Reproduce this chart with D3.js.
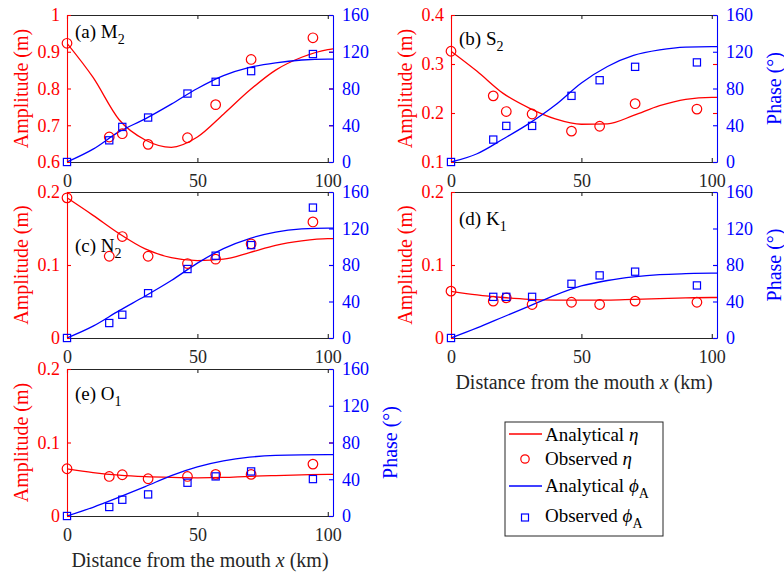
<!DOCTYPE html>
<html>
<head>
<meta charset="utf-8">
<script src="https://cdn.jsdelivr.net/npm/d3@7"></script>
<style>
  body { margin: 0; background: #fff; }
  svg text { font-family: "Liberation Serif", "DejaVu Serif", serif; }
</style>
</head>
<body>
<svg id="chart" width="784" height="572"></svg>
<script>
// stations (km from the mouth) and the x grid of the analytical curves
var stationKm = [0, 16.2, 21.2, 31.1, 46.2, 57, 70.6, 94.3];
var modelKm = [0, 10, 20, 30, 40, 50, 60, 70, 80, 90, 100, 102];
var xTicks = [0, 50, 100];
var phaseTicks = [0, 40, 80, 120, 160];

// M2
var m2AmpObs = [0.923, 0.668, 0.677, 0.648, 0.666, 0.756, 0.879, 0.938];
var m2PhaseObs = [0, 23.6, 38.2, 48.4, 74.5, 87.3, 98.9, 117.5];
var m2AmpModel = [0.923, 0.83, 0.715, 0.66, 0.64, 0.668, 0.73, 0.795, 0.85, 0.885, 0.906, 0.908];
var m2PhaseModel = [0, 14, 33, 47, 63, 80, 94, 103, 108, 111, 112, 112];

// S2
var s2AmpObs = [0.326, 0.235, 0.203, 0.198, 0.163, 0.173, 0.219, 0.208];
var s2PhaseObs = [0, 24.4, 39.3, 39.3, 72, 89, 103.6, 108.4];
var s2AmpModel = [0.326, 0.285, 0.24, 0.21, 0.188, 0.177, 0.178, 0.195, 0.215, 0.228, 0.232, 0.232];
var s2PhaseModel = [0, 9, 25, 42, 62, 86, 104, 116, 122, 125, 125.5, 125.5];

// N2
var n2AmpObs = [0.192, 0.112, 0.139, 0.112, 0.102, 0.108, 0.129, 0.159];
var n2PhaseObs = [0, 16.4, 25.5, 49.1, 75.6, 90.2, 101.8, 142.9];
var n2AmpModel = [0.192, 0.168, 0.143, 0.122, 0.11, 0.106, 0.108, 0.117, 0.127, 0.133, 0.136, 0.136];
var n2PhaseModel = [0, 13, 30, 46, 63, 82, 98, 109, 116, 119.5, 120.5, 120.5];

// K1
var k1AmpObs = [0.0642, 0.0505, 0.055, 0.0459, 0.049, 0.0459, 0.0505, 0.049];
var k1PhaseObs = [0, 45.1, 45.1, 45.1, 59.4, 68.6, 72.7, 57.6];
var k1AmpModel = [0.064, 0.059, 0.0555, 0.053, 0.052, 0.0518, 0.052, 0.053, 0.054, 0.055, 0.0555, 0.0555];
var k1PhaseModel = [0, 11, 23, 35, 47, 57, 63, 67, 69.5, 70.5, 71, 71];

// O1
var o1AmpObs = [0.0643, 0.0538, 0.0561, 0.0507, 0.0538, 0.0566, 0.0566, 0.0706];
var o1PhaseObs = [0, 9.8, 17.7, 23.5, 36.2, 43.1, 48.5, 40.2];
var o1AmpModel = [0.064, 0.059, 0.0555, 0.0535, 0.0525, 0.052, 0.0525, 0.054, 0.055, 0.056, 0.0565, 0.0565];
var o1PhaseModel = [0, 9.5, 20.5, 32, 44, 53.5, 60, 64, 66, 66.6, 66.7, 66.7];

var RED = "#ff0000", BLUE = "#0000ff", INK = "#262626";
var FONT = "Liberation Serif, DejaVu Serif, serif";

var svg = d3.select("#chart");

// #####################################################
// panel layout
//
var oneDec = d3.format(".1f");
function fmtZero(d) { return d == 0 ? "0" : oneDec(d); }

var panels = [
  {id: "a", label: "(a) M", sub: "2", left: 67, right: 333, top: 15, bottom: 162,
   ampDomain: [0.6, 1], ampTicks: [0.6, 0.7, 0.8, 0.9, 1], fmt: function (d) { return d == 1 ? "1" : oneDec(d); },
   titleY: 38, phaseLabel: false, xLabel: false,
   ampObs: m2AmpObs, phaseObs: m2PhaseObs, ampModel: m2AmpModel, phaseModel: m2PhaseModel},
  {id: "b", label: "(b) S", sub: "2", left: 451, right: 717, top: 15, bottom: 162,
   ampDomain: [0.1, 0.4], ampTicks: [0.1, 0.2, 0.3, 0.4], fmt: oneDec,
   titleY: 45, phaseLabel: true, xLabel: false,
   ampObs: s2AmpObs, phaseObs: s2PhaseObs, ampModel: s2AmpModel, phaseModel: s2PhaseModel},
  {id: "c", label: "(c) N", sub: "2", left: 67, right: 333, top: 192, bottom: 338,
   ampDomain: [0, 0.2], ampTicks: [0, 0.1, 0.2], fmt: fmtZero,
   titleY: 252, phaseLabel: false, xLabel: false,
   ampObs: n2AmpObs, phaseObs: n2PhaseObs, ampModel: n2AmpModel, phaseModel: n2PhaseModel},
  {id: "d", label: "(d) K", sub: "1", left: 451, right: 717, top: 192, bottom: 338,
   ampDomain: [0, 0.2], ampTicks: [0, 0.1, 0.2], fmt: fmtZero,
   titleY: 225, phaseLabel: true, xLabel: true,
   ampObs: k1AmpObs, phaseObs: k1PhaseObs, ampModel: k1AmpModel, phaseModel: k1PhaseModel},
  {id: "e", label: "(e) O", sub: "1", left: 67, right: 333, top: 369, bottom: 516,
   ampDomain: [0, 0.2], ampTicks: [0, 0.1, 0.2], fmt: fmtZero,
   titleY: 400, phaseLabel: true, xLabel: true,
   ampObs: o1AmpObs, phaseObs: o1PhaseObs, ampModel: o1AmpModel, phaseModel: o1PhaseModel}
];

function styleAxis(g, color) {
  g.attr("color", color)
   .attr("font-size", 18)
   .attr("font-family", FONT);
  g.selectAll("text").style("font-family", FONT);
  g.selectAll("path, line").attr("stroke-width", 1.1);
}

function drawPanel(p) {
  var g = svg.append("g").attr("class", "panel-" + p.id);
  var x = d3.scaleLinear().domain([0, 102]).range([p.left, p.right]);
  var yA = d3.scaleLinear().domain(p.ampDomain).range([p.bottom, p.top]);
  var yP = d3.scaleLinear().domain([0, 160]).range([p.bottom, p.top]);

  // clip for the curves
  g.append("clipPath").attr("id", "clip-" + p.id)
    .append("rect")
      .attr("x", p.left).attr("y", p.top)
      .attr("width", p.right - p.left).attr("height", p.bottom - p.top);

  // bottom and top axes
  g.append("g")
      .attr("transform", "translate(0," + p.bottom + ")")
      .call(d3.axisBottom(x).tickValues(xTicks).tickSize(-4).tickSizeOuter(0).tickPadding(12))
      .call(styleAxis, INK);
  g.append("g")
      .attr("transform", "translate(0," + p.top + ")")
      .call(d3.axisTop(x).tickValues(xTicks).tickSize(-4).tickSizeOuter(0).tickFormat(""))
      .call(styleAxis, INK);

  // left axis (amplitude) and its mirrored ticks on the right
  g.append("g")
      .attr("transform", "translate(" + p.left + ",0)")
      .call(d3.axisLeft(yA).tickValues(p.ampTicks).tickSize(-4).tickSizeOuter(0).tickPadding(7).tickFormat(p.fmt))
      .call(styleAxis, RED);
  var mirror = g.append("g")
      .attr("transform", "translate(" + p.right + ",0)")
      .call(d3.axisLeft(yA).tickValues(p.ampTicks).tickSize(4).tickSizeOuter(0).tickFormat(""))
      .call(styleAxis, RED);
  mirror.select(".domain").remove();

  // right axis (phase)
  g.append("g")
      .attr("transform", "translate(" + p.right + ",0)")
      .call(d3.axisRight(yP).tickValues(phaseTicks).tickSize(-4).tickSizeOuter(0).tickPadding(9))
      .call(styleAxis, BLUE);

  // analytical curves
  var ampLine = d3.line()
      .x(function (d, i) { return x(modelKm[i]); })
      .y(function (d) { return yA(d); })
      .curve(d3.curveMonotoneX);
  var phaseLine = d3.line()
      .x(function (d, i) { return x(modelKm[i]); })
      .y(function (d) { return yP(d); })
      .curve(d3.curveMonotoneX);

  g.append("path")
      .datum(p.ampModel)
      .attr("clip-path", "url(#clip-" + p.id + ")")
      .attr("fill", "none").attr("stroke", RED).attr("stroke-width", 1.3)
      .attr("d", ampLine);
  g.append("path")
      .datum(p.phaseModel)
      .attr("clip-path", "url(#clip-" + p.id + ")")
      .attr("fill", "none").attr("stroke", BLUE).attr("stroke-width", 1.3)
      .attr("d", phaseLine);

  // observations
  g.selectAll(".obs-amp")
      .data(p.ampObs)
    .enter().append("circle")
      .attr("class", "obs-amp")
      .attr("cx", function (d, i) { return x(stationKm[i]); })
      .attr("cy", function (d) { return yA(d); })
      .attr("r", 4.8)
      .attr("fill", "none").attr("stroke", RED).attr("stroke-width", 1.2);
  g.selectAll(".obs-phase")
      .data(p.phaseObs)
    .enter().append("rect")
      .attr("class", "obs-phase")
      .attr("x", function (d, i) { return x(stationKm[i]) - 3.6; })
      .attr("y", function (d) { return yP(d) - 3.6; })
      .attr("width", 7.2).attr("height", 7.2)
      .attr("fill", "none").attr("stroke", BLUE).attr("stroke-width", 1.2);

  // panel title
  var t = g.append("text")
      .attr("x", p.left + 8).attr("y", p.titleY)
      .attr("font-size", 19).attr("fill", "#000")
      .text(p.label);
  t.append("tspan").attr("font-size", 14).attr("dy", 6).text(p.sub);

  // axis labels
  var midY = (p.top + p.bottom) / 2;
  g.append("text")
      .attr("transform", "translate(" + (p.left - 46) + "," + midY + ") rotate(-90)")
      .attr("text-anchor", "middle").attr("dominant-baseline", "central")
      .attr("font-size", 20).attr("fill", RED)
      .text("Amplitude (m)");
  if (p.phaseLabel) {
    g.append("text")
        .attr("transform", "translate(" + (p.right + 57) + "," + midY + ") rotate(-90)")
        .attr("text-anchor", "middle").attr("dominant-baseline", "central")
        .attr("font-size", 20).attr("fill", BLUE)
        .text("Phase (\u00B0)");
  }
  if (p.xLabel) {
    var xl = g.append("text")
        .attr("x", (p.left + p.right) / 2).attr("y", p.bottom + 51)
        .attr("text-anchor", "middle")
        .attr("font-size", 20).attr("fill", INK)
        .text("Distance from the mouth ");
    xl.append("tspan").attr("font-style", "italic").text("x");
    xl.append("tspan").text(" (km)");
  }
}

panels.forEach(drawPanel);

// #####################################################
// Legend
//
var leg = svg.append("g").attr("class", "legend");
leg.append("rect")
    .attr("x", 505).attr("y", 422).attr("width", 158).attr("height", 114)
    .attr("fill", "#fff").attr("stroke", INK).attr("stroke-width", 1);

function legText(y, word, sym, sub) {
  var t = leg.append("text")
      .attr("x", 545).attr("y", y)
      .attr("font-size", 19).attr("fill", "#000")
      .text(word);
  t.append("tspan").attr("font-style", "italic").text(sym);
  if (sub) t.append("tspan").attr("font-size", 14).attr("dy", 6).text(sub);
}

leg.append("line").attr("x1", 509).attr("x2", 542).attr("y1", 434).attr("y2", 434)
    .attr("stroke", RED).attr("stroke-width", 1.3);
legText(441, "Analytical ", "\u03B7");
leg.append("circle").attr("cx", 525).attr("cy", 459).attr("r", 4.2)
    .attr("fill", "none").attr("stroke", RED).attr("stroke-width", 1.2);
legText(465, "Observed ", "\u03B7");
leg.append("line").attr("x1", 509).attr("x2", 542).attr("y1", 486).attr("y2", 486)
    .attr("stroke", BLUE).attr("stroke-width", 1.3);
legText(492, "Analytical ", "\u03D5", "A");
leg.append("rect").attr("x", 521.5).attr("y", 514).attr("width", 7).attr("height", 7)
    .attr("fill", "none").attr("stroke", BLUE).attr("stroke-width", 1.2);
legText(522, "Observed ", "\u03D5", "A");
</script>
</body>
</html>
